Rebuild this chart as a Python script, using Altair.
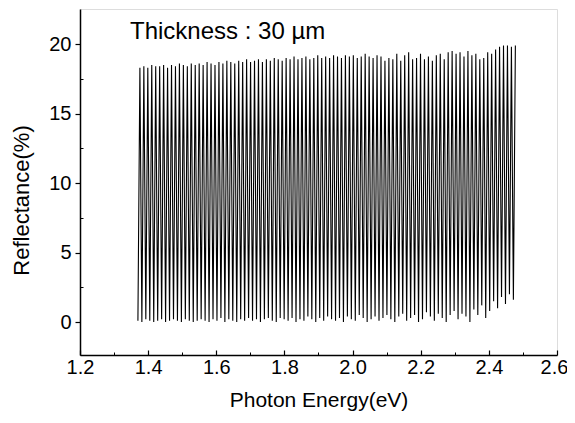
import altair as alt
import pandas as pd

# Energies (eV) of reflectance minima and maxima
trough_E = [1.3700, 1.3816, 1.3932, 1.4048, 1.4164, 1.4280, 1.4396, 1.4512, 1.4628, 1.4744, 1.4860, 1.4976,
            1.5092, 1.5208, 1.5324, 1.5440, 1.5556, 1.5672, 1.5788, 1.5904, 1.6020, 1.6136, 1.6252, 1.6368,
            1.6484, 1.6600, 1.6716, 1.6832, 1.6948, 1.7064, 1.7180, 1.7296, 1.7412, 1.7528, 1.7644, 1.7760,
            1.7876, 1.7992, 1.8108, 1.8224, 1.8340, 1.8456, 1.8572, 1.8688, 1.8804, 1.8920, 1.9036, 1.9152,
            1.9268, 1.9384, 1.9500, 1.9616, 1.9732, 1.9848, 1.9964, 2.0080, 2.0196, 2.0312, 2.0428, 2.0544,
            2.0660, 2.0776, 2.0892, 2.1008, 2.1124, 2.1240, 2.1356, 2.1472, 2.1588, 2.1704, 2.1820, 2.1936,
            2.2052, 2.2168, 2.2284, 2.2400, 2.2516, 2.2632, 2.2748, 2.2864, 2.2980, 2.3096, 2.3212, 2.3328,
            2.3444, 2.3560, 2.3676, 2.3792, 2.3908, 2.4024, 2.4140, 2.4256, 2.4372, 2.4488, 2.4604, 2.4720]
peak_E = [1.3758, 1.3874, 1.3990, 1.4106, 1.4222, 1.4338, 1.4454, 1.4570, 1.4686, 1.4802, 1.4918, 1.5034,
          1.5150, 1.5266, 1.5382, 1.5498, 1.5614, 1.5730, 1.5846, 1.5962, 1.6078, 1.6194, 1.6310, 1.6426,
          1.6542, 1.6658, 1.6774, 1.6890, 1.7006, 1.7122, 1.7238, 1.7354, 1.7470, 1.7586, 1.7702, 1.7818,
          1.7934, 1.8050, 1.8166, 1.8282, 1.8398, 1.8514, 1.8630, 1.8746, 1.8862, 1.8978, 1.9094, 1.9210,
          1.9326, 1.9442, 1.9558, 1.9674, 1.9790, 1.9906, 2.0022, 2.0138, 2.0254, 2.0370, 2.0486, 2.0602,
          2.0718, 2.0834, 2.0950, 2.1066, 2.1182, 2.1298, 2.1414, 2.1530, 2.1646, 2.1762, 2.1878, 2.1994,
          2.2110, 2.2226, 2.2342, 2.2458, 2.2574, 2.2690, 2.2806, 2.2922, 2.3038, 2.3154, 2.3270, 2.3386,
          2.3502, 2.3618, 2.3734, 2.3850, 2.3966, 2.4082, 2.4198, 2.4314, 2.4430, 2.4546, 2.4662, 2.4778]

# Reflectance (%) at the minima and maxima
trough_R = [0.1, 0.0, 0.2, 0.1, 0.0, 0.1, 0.2, 0.0, 0.1, 0.2, 0.1, 0.0, 0.2, 0.1, 0.0, 0.1,
            0.2, 0.1, 0.0, 0.2, 0.1, 0.3, 0.0, 0.2, 0.1, 0.0, 0.2, 0.1, 0.3, 0.1, 0.2, 0.0,
            0.2, 0.3, 0.1, 0.0, 0.3, 0.2, 0.1, 0.3, 0.0, 0.2, 0.1, 0.4, 0.2, 0.0, 0.3, 0.1,
            0.4, 0.2, 0.1, 0.3, 0.0, 0.4, 0.2, 0.1, 0.5, 0.3, 0.0, 0.2, 0.4, 0.1, 0.3, 0.5,
            0.2, 0.0, 0.4, 0.6, 0.1, 0.3, 0.5, 0.0, 0.2, 0.7, 0.4, 0.1, 0.6, 0.3, 0.0, 0.5,
            0.8, 0.2, 0.6, 0.4, 0.0, 0.9, 0.5, 1.2, 0.3, 0.8, 1.5, 1.0, 1.8, 1.3, 2.0, 1.6]
peak_R = [18.3, 18.4, 18.3, 18.5, 18.4, 18.4, 18.5, 18.3, 18.5, 18.4, 18.6, 18.5, 18.4, 18.6, 18.5, 18.6,
          18.5, 18.7, 18.6, 18.5, 18.7, 18.6, 18.8, 18.7, 18.6, 18.8, 18.7, 18.9, 18.7, 18.8, 18.9, 18.7,
          18.9, 18.8, 19.0, 18.9, 18.8, 19.0, 18.9, 19.1, 18.9, 19.0, 19.1, 18.9, 19.0, 19.2, 19.0, 19.1,
          19.0, 19.2, 19.1, 19.0, 19.2, 19.1, 19.2, 19.0, 19.1, 19.3, 19.1, 19.0, 19.2, 19.1, 18.8, 19.0,
          18.9, 19.3, 18.8, 19.2, 19.4, 18.9, 19.0, 19.3, 18.9, 19.1, 18.8, 19.2, 19.3, 18.9, 19.4, 19.5,
          19.3, 19.4, 19.1, 19.5, 19.2, 19.3, 18.9, 19.0, 19.4, 19.3, 19.6, 19.8, 19.9, 19.9, 19.8, 19.9]

x_major = [1.2, 1.4, 1.6, 1.8, 2.0, 2.2, 2.4, 2.6]
x_minor = [1.3, 1.5, 1.7, 1.9, 2.1, 2.3, 2.5]
y_major = [0, 5, 10, 15, 20]
y_minor = [2.5, 7.5, 12.5, 17.5]

rows = []
for i in range(len(trough_E)):
    rows.append({"E": trough_E[i], "R": trough_R[i], "o": 2 * i})
    rows.append({"E": peak_E[i], "R": peak_R[i], "o": 2 * i + 1})
df = pd.DataFrame(rows)

FONT = "Liberation Sans"
xs = alt.Scale(domain=[1.2, 2.6], nice=False, zero=False)
ys = alt.Scale(domain=[-2.37, 22.52], nice=False, zero=False)

base = alt.Chart(df)

main = base.mark_line(color="black", strokeWidth=1.1, clip=True).encode(
    x=alt.X("E:Q", scale=xs, axis=alt.Axis(
        orient="bottom", values=x_major[:-1], format=".1f", ticks=False, grid=False,
        labelFlush=False, labelFontSize=20, labelPadding=2, labelColor="black", labelFont=FONT,
        title="Photon Energy(eV)", titleFontSize=21, titleFontWeight="normal",
        titleFont=FONT, titleColor="black", titlePadding=12,
        domainColor="black", domainWidth=1.5)),
    y=alt.Y("R:Q", scale=ys, axis=alt.Axis(
        orient="left", values=y_major, tickSize=5, tickColor="black", tickWidth=1.2, grid=False,
        labelFlush=False, labelFontSize=20, labelPadding=4, labelColor="black", labelFont=FONT,
        title="Reflectance(%)", titleFontSize=22, titleFontWeight="normal",
        titleFont=FONT, titleColor="black", titlePadding=15, titleY=191,
        domainColor="black", domainWidth=1.5)),
    order="o:Q",
)

ticks_major = base.mark_point(opacity=0).encode(
    x=alt.X("E:Q", scale=xs, axis=alt.Axis(
        orient="bottom", values=x_major, offset=-5, tickSize=5, tickColor="black", tickWidth=1.2,
        labels=False, domain=False, grid=False, title=None)),
    y=alt.Y("R:Q", scale=ys, axis=alt.Axis(
        orient="left", values=y_minor, offset=-3, tickSize=3, tickColor="black", tickWidth=1,
        labels=False, domain=False, grid=False, title=None)),
)

ticks_minor = base.mark_point(opacity=0).encode(
    x=alt.X("E:Q", scale=xs, axis=alt.Axis(
        orient="bottom", values=x_minor, offset=-3, tickSize=3, tickColor="black", tickWidth=1,
        labels=False, domain=False, grid=False, title=None)),
    y=alt.Y("R:Q", scale=ys, axis=None),
)

last_label = base.mark_point(opacity=0).encode(
    x=alt.X("E:Q", scale=xs, axis=alt.Axis(
        orient="bottom", values=x_major[-1:], format=".1f", ticks=False, domain=False, grid=False,
        labelFlush=False, labelFontSize=20, labelPadding=2, labelColor="black", labelFont=FONT,
        labelOffset=-3, title=None)),
    y=alt.Y("R:Q", scale=ys, axis=None),
)

label = alt.Chart(pd.DataFrame({"t": ["Thickness : 30 \u00b5m"]})).mark_text(
    align="left", baseline="middle", fontSize=24, font=FONT, color="black"
).encode(x=alt.value(50), y=alt.value(23), text="t:N")

chart = alt.layer(main, ticks_major, ticks_minor, last_label, label).resolve_axis(
    x="independent", y="independent"
).properties(
    width=477, height=346,
    padding={"left": 72, "top": 1, "right": 10, "bottom": 60},
    autosize=alt.AutoSizeParams(type="none"),
).configure_view(stroke=None).configure(background="white")

chart.save("out.html", embed_options={"renderer": "svg", "actions": False})
